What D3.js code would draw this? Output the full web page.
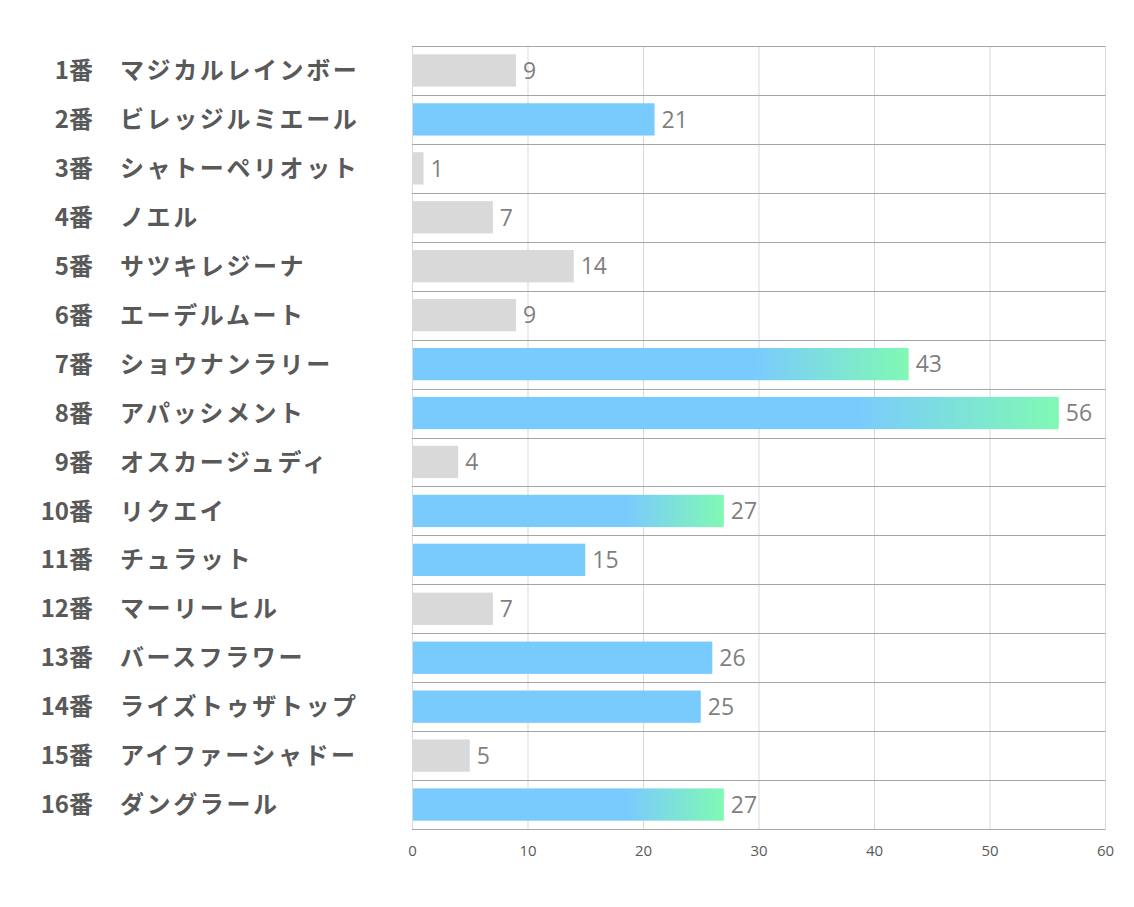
<!DOCTYPE html>
<html><head><meta charset="utf-8">
<script src="https://cdn.jsdelivr.net/npm/d3@7"></script>
<style>body{margin:0;background:#fff}</style>
</head><body>
<svg id="c" width="1134" height="907"></svg>
<script>
const numbers = ["1番","2番","3番","4番","5番","6番","7番","8番","9番","10番","11番","12番","13番","14番","15番","16番"];
const names = ["マジカルレインボー","ビレッジルミエール","シャトーペリオット","ノエル","サツキレジーナ","エーデルムート","ショウナンラリー","アパッシメント","オスカージュディ","リクエイ","チュラット","マーリーヒル","バースフラワー","ライズトゥザトップ","アイファーシャドー","ダングラール"];
const values = [9,21,1,7,14,9,43,56,4,27,15,7,26,25,5,27];
const styles = ["gray","blue","gray","gray","gray","gray","grad","grad","gray","grad","blue","gray","blue","blue","gray","grad"];
const ticks = [0,10,20,30,40,50,60];

const svg = d3.select("#c");
const L = 412, R = 1105, T = 46, B = 829;
const x = d3.scaleLinear().domain([0,60]).range([L,R]);
const y = d3.scaleBand().domain(d3.range(values.length)).range([T,B]).paddingInner(0.34).paddingOuter(0.17);
const rows = d3.scaleBand().domain(d3.range(values.length)).range([T,B]);

const defs = svg.append("defs");
const g = defs.append("linearGradient").attr("id","gr").attr("x1","0").attr("x2","1").attr("y1","0").attr("y2","0");
g.append("stop").attr("offset","0.69").attr("stop-color","#7acbfd");
g.append("stop").attr("offset","1").attr("stop-color","#80f9b4");

// vertical gridlines
svg.append("g").selectAll("line").data(ticks).join("line")
  .attr("x1",d=>x(d)+0.5).attr("x2",d=>x(d)+0.5).attr("y1",T).attr("y2",B)
  .attr("stroke","#d9d9d9").attr("stroke-width",1);
// horizontal row lines
svg.append("g").selectAll("line").data(d3.range(values.length+1)).join("line")
  .attr("x1",L).attr("x2",R+0.5)
  .attr("y1",d=>Math.round(T+d*rows.step())+0.5).attr("y2",d=>Math.round(T+d*rows.step())+0.5)
  .attr("stroke","#a6a6a6").attr("stroke-width",1);

// bars
const col = {gray:"#d9d9d9", blue:"#7acbfd", grad:"url(#gr)"};
svg.append("g").selectAll("rect").data(values).join("rect")
  .attr("x",x(0)+1).attr("y",(d,i)=>y(i)).attr("height",y.bandwidth())
  .attr("width",d=>x(d)-x(0)-1).attr("fill",(d,i)=>col[styles[i]]);

// value labels
svg.append("g").selectAll("text").data(values).join("text")
  .attr("x",d=>x(d)+7).attr("y",(d,i)=>y(i)+y.bandwidth()/2)
  .attr("dy","0.36em").attr("font-family","'Liberation Sans Narrow','Open Sans',sans-serif")
  .attr("font-size",23).attr("fill","#7f7f7f").text(d=>d);

// axis
const ax = svg.append("g").attr("transform",`translate(0,${B})`).call(d3.axisBottom(x).tickValues(ticks).tickSize(0).tickPadding(16));
ax.select(".domain").remove();
ax.selectAll("text").attr("font-family","'Liberation Sans Narrow','Open Sans',sans-serif").attr("font-size",15).attr("fill","#595959");

// category labels
const lab = svg.append("g");
lab.selectAll("text.n").data(numbers).join("text").attr("class","n")
  .attr("x",93).attr("y",(d,i)=>rows(i)+rows.bandwidth()/2).attr("dy","0.36em")
  .attr("text-anchor","end").attr("font-family","'Noto Sans CJK JP',sans-serif")
  .attr("font-weight","bold").attr("font-size",24).attr("fill","#595959").text(d=>d);
lab.selectAll("text.m").data(names).join("text").attr("class","m")
  .attr("x",120).attr("y",(d,i)=>rows(i)+rows.bandwidth()/2).attr("dy","0.36em")
  .attr("font-family","'Noto Sans CJK JP',sans-serif").attr("letter-spacing","2.6")
  .attr("font-weight","bold").attr("font-size",24).attr("fill","#595959").text(d=>d);
</script>
</body></html>
